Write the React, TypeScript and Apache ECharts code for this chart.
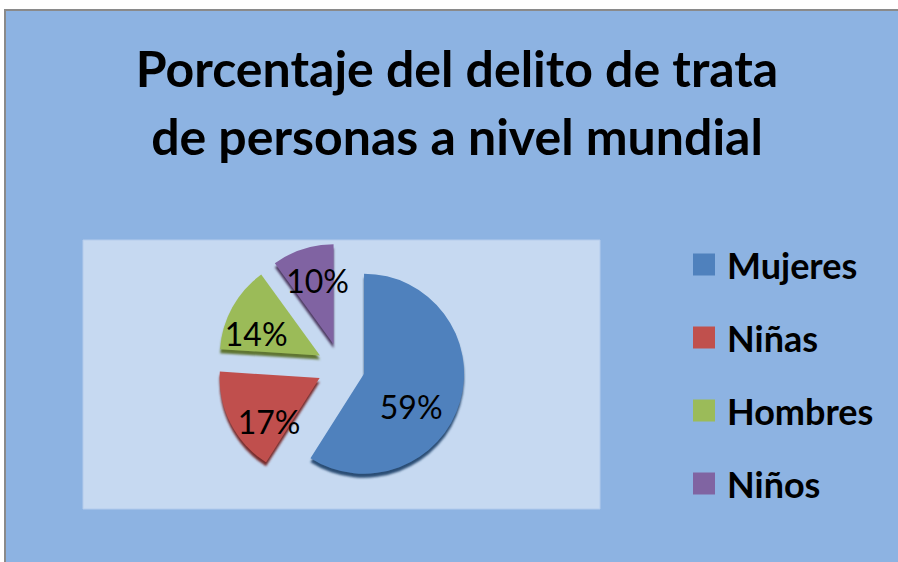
import React, { useEffect, useRef } from "react";
import * as echarts from "echarts";

const TITLE = "Porcentaje del delito de trata\nde personas a nivel mundial";
const categories = ["Mujeres", "Niñas", "Hombres", "Niños"];
const values = [59, 17, 14, 10];
const colors = ["#4F81BD", "#C0504D", "#9BBB59", "#8064A2"];
const shades = ["#2C4D75", "#772C2A", "#5F7530", "#4D3B62"];
// label nudges (style only), relative to ECharts' own inside-label position
const labelNudge = [
  [-71, -2],
  [59, -12],
  [44, 37],
  [22, 53],
];

export default function App() {
  const ref = useRef<HTMLDivElement>(null);
  useEffect(() => {
    if (!ref.current) return;
    const chart = echarts.init(ref.current, null, { renderer: "svg" });
    const font = "Lato, 'Open Sans', sans-serif";
    const center = [341, 367];
    const data = categories.map((name, i) => ({
      name,
      value: values[i],
      selected: true,
      itemStyle: {
        color: colors[i],
        shadowColor: shades[i],
        shadowBlur: 2,
        shadowOffsetY: 4,
      },
    }));
    const labelData = categories.map((name, i) => ({
      name,
      value: values[i],
      selected: true,
    }));
    chart.setOption({
      animation: false,
      backgroundColor: "#ffffff",
      color: colors,
      graphic: [
        {
          type: "rect",
          z: -10,
          silent: true,
          shape: { x: 5, y: 10, width: 900, height: 560 },
          style: { fill: "#8DB3E2", stroke: "#8A8A8A", lineWidth: 2 },
        },
        {
          type: "rect",
          z: -9,
          silent: true,
          shape: { x: 83, y: 240, width: 517, height: 269 },
          style: { fill: "#C6D9F1", stroke: "#B3CBEC", lineWidth: 1 },
        },
      ],
      title: {
        text: TITLE,
        left: 457,
        top: 34,
        padding: 0,
        textAlign: "center",
        textStyle: {
          fontFamily: font,
          fontWeight: "bold",
          fontSize: 50,
          lineHeight: 68,
          color: "#000000",
        },
      },
      legend: {
        orient: "vertical",
        left: 693,
        top: 246,
        padding: 0,
        itemWidth: 22,
        itemHeight: 22,
        itemGap: 36,
        icon: "rect",
        data: categories,
        selectedMode: false,
        textStyle: {
          fontFamily: font,
          fontSize: 36,
          fontWeight: "bold",
          lineHeight: 37,
          color: "#000000",
          padding: [0, 0, 0, 7],
        },
      },
      series: [
        {
          type: "pie",
          center,
          radius: [0, 100],
          startAngle: 90,
          clockwise: true,
          selectedMode: "multiple",
          selectedOffset: 24,
          silent: true,
          label: { show: false },
          labelLine: { show: false },
          emphasis: { disabled: true },
          data,
        },
        {
          type: "pie",
          center,
          radius: [100, 140],
          startAngle: 90,
          clockwise: true,
          selectedMode: "multiple",
          selectedOffset: 24,
          silent: true,
          avoidLabelOverlap: false,
          z: 5,
          itemStyle: { color: "rgba(0,0,0,0)" },
          label: {
            show: true,
            position: "inside",
            formatter: "{c}%",
            fontFamily: font,
            fontSize: 32,
            color: "#000000",
          },
          labelLayout: (p: any) => ({
            dx: labelNudge[p.dataIndex][0],
            dy: labelNudge[p.dataIndex][1],
          }),
          labelLine: { show: false },
          emphasis: { disabled: true },
          data: labelData,
        },
      ],
    });
    return () => chart.dispose();
  }, []);
  return (
    <div
      ref={ref}
      style={{ position: "fixed", left: 0, top: 0, width: 898, height: 562 }}
    />
  );
}
